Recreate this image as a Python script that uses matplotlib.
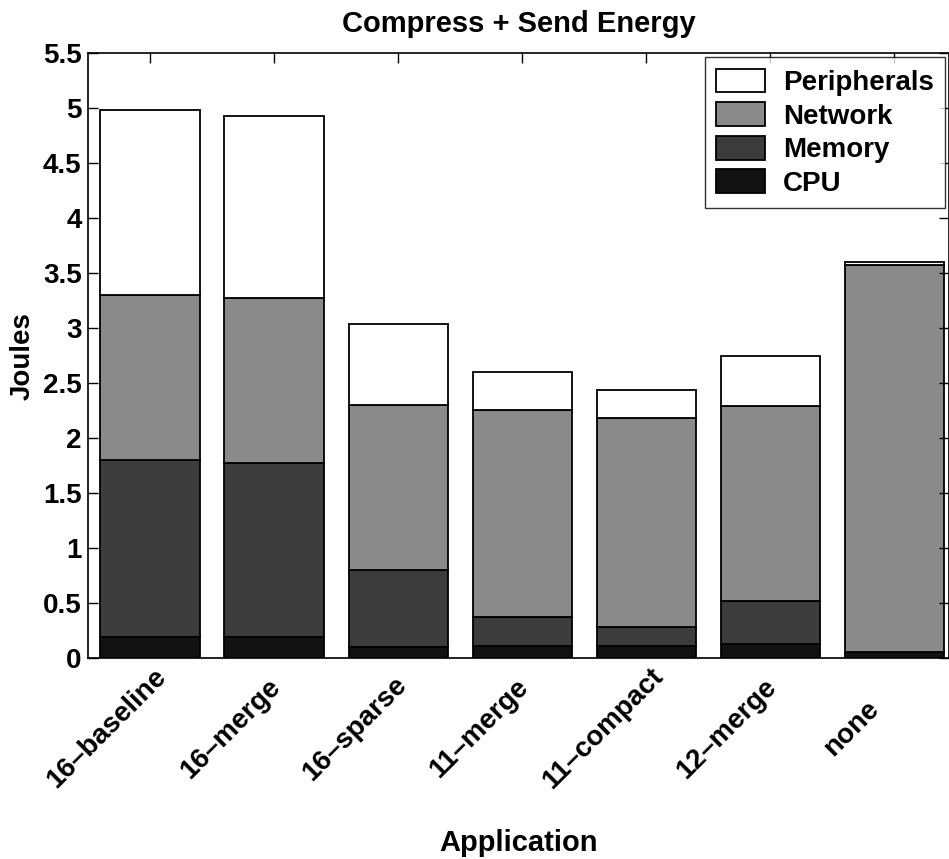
import numpy as np
import matplotlib
matplotlib.use("Agg")
import matplotlib.pyplot as plt
from matplotlib.transforms import ScaledTranslation

plt.rcParams["font.family"] = ["Liberation Sans", "DejaVu Sans"]
plt.rcParams["font.weight"] = "bold"

apps = ["16–baseline", "16–merge", "16–sparse", "11–merge", "11–compact", "12–merge", "none"]

# energy per component (Joules), stacked bottom to top
cpu = [0.19, 0.19, 0.10, 0.11, 0.11, 0.13, 0.05]
memory = [1.61, 1.58, 0.70, 0.26, 0.17, 0.39, 0.00]
network = [1.50, 1.50, 1.50, 1.89, 1.90, 1.77, 3.52]
peripherals = [1.68, 1.66, 0.74, 0.34, 0.26, 0.46, 0.03]

series = [
    ("CPU", cpu, "#121212"),
    ("Memory", memory, "#3c3c3c"),
    ("Network", network, "#8a8a8a"),
    ("Peripherals", peripherals, "#ffffff"),
]

fig = plt.figure(figsize=(9.49, 8.59), dpi=100)
ax = fig.add_axes([0.0927, 0.234, 0.9073, 0.704])

x = np.arange(len(apps))
bottom = np.zeros(len(apps))
handles = {}
for name, vals, color in series:
    b = ax.bar(x, vals, width=0.8, bottom=bottom, color=color,
               edgecolor="black", linewidth=1.3, label=name)
    handles[name] = b
    bottom += np.array(vals)

ax.set_xlim(-0.5, 6.44)
ax.set_ylim(0, 5.5)
ax.set_yticks(np.arange(0, 5.51, 0.5))
ax.set_yticklabels(["0", "0.5", "1", "1.5", "2", "2.5", "3", "3.5", "4", "4.5", "5", "5.5"],
                   fontsize=20, fontweight="bold")
ax.set_xticks(x)
ax.set_xticklabels(apps, rotation=45, ha="center", va="center",
                   rotation_mode="anchor", fontsize=20, fontweight="bold")
ax.tick_params(direction="in", top=True, right=True, length=7, width=1)
ax.tick_params(axis="y", pad=4.5)
ax.tick_params(axis="x", bottom=False, pad=0)
# rotated labels sit centred below and to the left of each tick
shift = ScaledTranslation(-31 / 72, -51 / 72, fig.dpi_scale_trans)
for lbl in ax.get_xticklabels():
    lbl.set_transform(lbl.get_transform() + shift)
for s in ax.spines.values():
    s.set_linewidth(1.2)

ax.set_title("Compress + Send Energy", fontsize=21, fontweight="bold", pad=15)
ax.set_ylabel("Joules", fontsize=20, fontweight="bold", labelpad=5)
fig.text(0.5 * (88 + 949) / 949, 1 - 843 / 859, "Application", fontsize=21,
         fontweight="bold", ha="center", va="center")

order = ["Peripherals", "Network", "Memory", "CPU"]
leg = ax.legend([handles[n] for n in order], order, loc="upper right",
                frameon=True, fancybox=False, borderaxespad=0.15,
                handlelength=1.75, handleheight=0.95, labelspacing=0.22,
                handletextpad=0.65, borderpad=0.4,
                prop={"weight": "bold", "size": 20})
leg.get_frame().set_edgecolor("black")
leg.get_frame().set_linewidth(1.0)

fig.savefig("out.png", dpi=100)
